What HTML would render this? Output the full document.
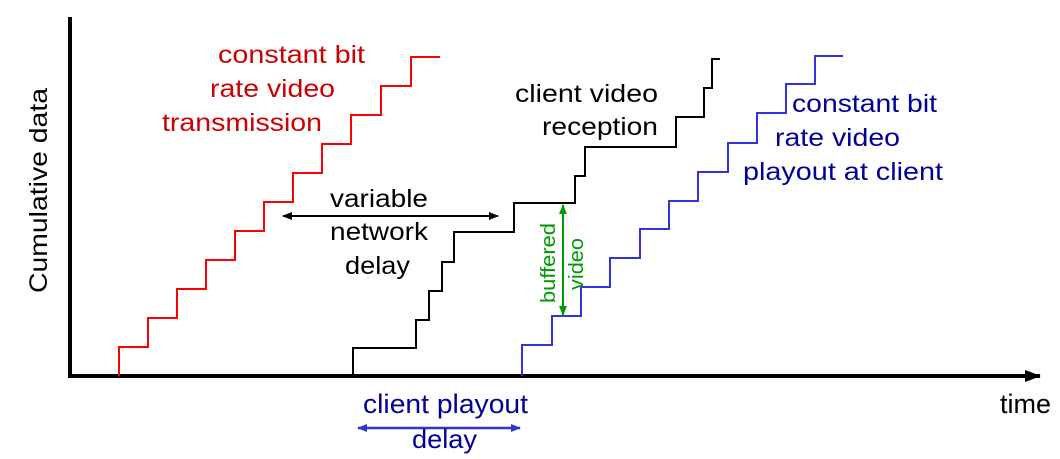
<!DOCTYPE html>
<html><head><style>body{margin:0;background:#fff}svg{display:block}text{font-family:"Liberation Sans",Arial,sans-serif}</style></head><body>
<svg width="1060" height="459" viewBox="0 0 1060 459" xmlns="http://www.w3.org/2000/svg">
<defs>
<marker id="ab" markerWidth="10" markerHeight="8" refX="9" refY="4" orient="auto-start-reverse" markerUnits="userSpaceOnUse"><path d="M0,0 L10,4 L0,8 Z" fill="#000"/></marker>
<marker id="ag" markerWidth="10" markerHeight="8" refX="9" refY="4" orient="auto-start-reverse" markerUnits="userSpaceOnUse"><path d="M0,0 L10,4 L0,8 Z" fill="#009900"/></marker>
<marker id="au" markerWidth="10" markerHeight="8" refX="9" refY="4" orient="auto-start-reverse" markerUnits="userSpaceOnUse"><path d="M0,0 L10,4 L0,8 Z" fill="#3333cc"/></marker>
<marker id="ax" markerWidth="16" markerHeight="12" refX="15" refY="6" orient="auto" markerUnits="userSpaceOnUse"><path d="M0,0 L16,6 L0,12 Z" fill="#000"/></marker>
</defs>
<polyline points="70,17 70,376 1040,376" fill="none" stroke="#000" stroke-width="4" marker-end="url(#ax)"/>
<polyline fill="none" stroke="#ff0000" stroke-width="2" points="119,376 119,347 148,347 148,318 177,318 177,289 206,289 206,260 235,260 235,231 264,231 264,202 293,202 293,173 322,173 322,144 351,144 351,115 381,115 381,86 411,86 411,57 440,57"/>
<polyline fill="none" stroke="#000" stroke-width="2" points="353,376 353,348 416,348 416,320 429,320 429,291 442,291 442,262 454,262 454,232 514,232 514,203 575,203 575,176 585,176 585,147 676,147 676,117 704,117 704,88 712,88 712,59 720,59"/>
<polyline fill="none" stroke="#3333dd" stroke-width="2" points="522,376 522,345 552,345 552,316 581,316 581,287 610,287 610,258 640,258 640,229 669,229 669,201 698,201 698,172 728,172 728,143 757,143 757,113 786,113 786,84 815,84 815,56 843,56"/>
<line x1="283" y1="216" x2="498" y2="216" stroke="#000" stroke-width="2" marker-start="url(#ab)" marker-end="url(#ab)"/>
<line x1="563" y1="205" x2="563" y2="315" stroke="#009900" stroke-width="2" marker-start="url(#ag)" marker-end="url(#ag)"/>
<line x1="358" y1="428" x2="520" y2="428" stroke="#3333cc" stroke-width="2.5" marker-start="url(#au)" marker-end="url(#au)"/>
<g fill="#cc0000" font-size="25">
<text x="218" y="63" textLength="147" lengthAdjust="spacingAndGlyphs">constant bit</text>
<text x="210" y="97" textLength="125" lengthAdjust="spacingAndGlyphs">rate video</text>
<text x="162" y="131" textLength="160" lengthAdjust="spacingAndGlyphs">transmission</text></g>
<g fill="#000" font-size="25">
<text x="330" y="207" textLength="98" lengthAdjust="spacingAndGlyphs">variable</text>
<text x="330" y="240" textLength="98" lengthAdjust="spacingAndGlyphs">network</text>
<text x="345" y="274" textLength="65" lengthAdjust="spacingAndGlyphs">delay</text>
<text x="515" y="102" textLength="143" lengthAdjust="spacingAndGlyphs">client video</text>
<text x="542" y="135" textLength="116" lengthAdjust="spacingAndGlyphs">reception</text>
<text x="1000" y="413" font-size="27" textLength="51" lengthAdjust="spacingAndGlyphs">time</text>
<text transform="translate(47,293) rotate(-90)" textLength="205" lengthAdjust="spacingAndGlyphs">Cumulative data</text></g>
<g fill="#000099" font-size="25">
<text x="792" y="112" textLength="145" lengthAdjust="spacingAndGlyphs">constant bit</text>
<text x="775" y="146" textLength="125" lengthAdjust="spacingAndGlyphs">rate video</text>
<text x="743" y="180" textLength="200" lengthAdjust="spacingAndGlyphs">playout at client</text>
<text x="363" y="413" font-size="27" textLength="165" lengthAdjust="spacingAndGlyphs">client playout</text>
<text x="412" y="448" font-size="26" textLength="65" lengthAdjust="spacingAndGlyphs">delay</text></g>
<g fill="#009900" font-size="20">
<text transform="translate(555,303) rotate(-90)" textLength="80" lengthAdjust="spacingAndGlyphs">buffered</text>
<text transform="translate(583,290) rotate(-90)" textLength="52" lengthAdjust="spacingAndGlyphs">video</text></g>
</svg>
</body></html>
